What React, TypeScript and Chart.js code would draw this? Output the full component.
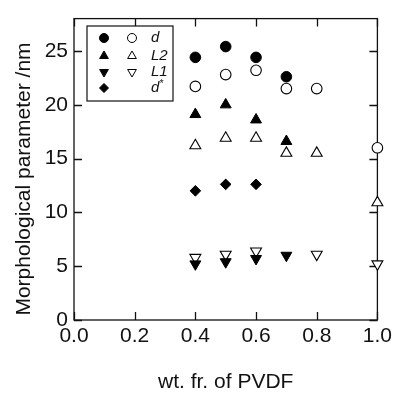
import React, { useEffect, useRef } from "react";
import { Chart, registerables } from "chart.js";

Chart.register(...registerables);

const xTickValues = [0, 0.2, 0.4, 0.6, 0.8, 1.0];
const yTickValues = [0, 5, 10, 15, 20, 25];

const dFilledX = [0.4, 0.5, 0.6, 0.7];
const dFilledY = [24.4, 25.4, 24.4, 22.6];
const dOpenX = [0.4, 0.5, 0.6, 0.7, 0.8, 1.0];
const dOpenY = [21.7, 22.8, 23.2, 21.5, 21.5, 16.0];

const l2FilledX = [0.4, 0.5, 0.6, 0.7];
const l2FilledY = [19.1, 20.0, 18.6, 16.6];
const l2OpenX = [0.4, 0.5, 0.6, 0.7, 0.8, 1.0];
const l2OpenY = [16.2, 16.9, 16.9, 15.5, 15.5, 10.9];

const l1FilledX = [0.4, 0.5, 0.6, 0.7];
const l1FilledY = [5.2, 5.4, 5.7, 6.0];
const l1OpenX = [0.4, 0.5, 0.6, 0.8, 1.0];
const l1OpenY = [5.8, 6.1, 6.4, 6.1, 5.2];

const dStarX = [0.4, 0.5, 0.6];
const dStarY = [12.0, 12.6, 12.6];

const legendLabels = ["d", "L2", "L1", "d"];
const xTitle = "wt. fr. of PVDF";
const yTitle = "Morphological parameter /nm";

const FONT = "'Liberation Sans', Arial, sans-serif";

const pts = (xs: number[], ys: number[]) => xs.map((x, i) => ({ x, y: ys[i] }));

const frameTicksPlugin = {
  id: "frameTicks",
  beforeDatasetsDraw(chart: any) {
    const { ctx, chartArea } = chart;
    const { left, right, top, bottom } = chartArea;
    const xs = chart.scales.x;
    const ys = chart.scales.y;
    const L = 8;
    ctx.save();
    ctx.strokeStyle = "#111";
    ctx.lineWidth = 1.3;
    ctx.strokeRect(left, top, right - left, bottom - top);
    ctx.beginPath();
    xTickValues.forEach((v) => {
      const px = Math.round(xs.getPixelForValue(v)) + 0.5;
      ctx.moveTo(px, bottom);
      ctx.lineTo(px, bottom - L);
      ctx.moveTo(px, top);
      ctx.lineTo(px, top + L);
    });
    yTickValues.forEach((v) => {
      const py = Math.round(ys.getPixelForValue(v)) + 0.5;
      ctx.moveTo(left, py);
      ctx.lineTo(left + L, py);
      ctx.moveTo(right, py);
      ctx.lineTo(right - L, py);
    });
    ctx.stroke();
    ctx.restore();
  },
  afterDraw(chart: any) {
    const { ctx } = chart;
    ctx.save();
    // y title
    ctx.save();
    ctx.translate(24, 179);
    ctx.rotate(-Math.PI / 2);
    ctx.fillStyle = "#111";
    ctx.font = `21px ${FONT}`;
    ctx.textAlign = "center";
    ctx.textBaseline = "middle";
    ctx.fillText(yTitle, 0, 0);
    ctx.restore();
    // legend box
    const bx = 87, by = 26, bw = 86, bh = 75;
    ctx.strokeStyle = "#111";
    ctx.lineWidth = 1.2;
    ctx.fillStyle = "#fff";
    ctx.fillRect(bx, by, bw, bh);
    ctx.strokeRect(bx, by, bw, bh);
    const rows = [38, 56, 72, 88];
    const c1 = 104, c2 = 132, tx = 151;
    const shapes = ["circle", "up", "down", "diamond"];
    const drawShape = (shape: string, x: number, y: number, filled: boolean) => {
      const r = 5;
      ctx.beginPath();
      if (shape === "circle") {
        ctx.arc(x, y, 4.5, 0, Math.PI * 2);
      } else if (shape === "up") {
        ctx.moveTo(x, y - r);
        ctx.lineTo(x + r * 0.87, y + r * 0.5);
        ctx.lineTo(x - r * 0.87, y + r * 0.5);
        ctx.closePath();
      } else if (shape === "down") {
        ctx.moveTo(x, y + r);
        ctx.lineTo(x + r * 0.87, y - r * 0.5);
        ctx.lineTo(x - r * 0.87, y - r * 0.5);
        ctx.closePath();
      } else {
        ctx.moveTo(x, y - 4.5);
        ctx.lineTo(x + 4.5, y);
        ctx.lineTo(x, y + 4.5);
        ctx.lineTo(x - 4.5, y);
        ctx.closePath();
      }
      ctx.fillStyle = filled ? "#000" : "#fff";
      ctx.fill();
      ctx.lineWidth = 1;
      ctx.strokeStyle = "#000";
      ctx.stroke();
    };
    rows.forEach((ry, i) => {
      drawShape(shapes[i], c1, ry, true);
      if (i < 3) drawShape(shapes[i], c2, ry, false);
      ctx.fillStyle = "#111";
      ctx.font = `italic 15px ${FONT}`;
      ctx.textBaseline = "middle";
      ctx.textAlign = "left";
      ctx.fillText(legendLabels[i], tx, ry);
      if (i === 3) {
        const w = ctx.measureText(legendLabels[i]).width;
        ctx.font = `italic 10px ${FONT}`;
        ctx.fillText("*", tx + w, ry - 4);
      }
    });
    ctx.restore();
  },
};

export default function App() {
  const ref = useRef<HTMLCanvasElement | null>(null);
  useEffect(() => {
    if (!ref.current) return;
    const open = (data: any, style: string, r: number, rot = 0) => ({
      data,
      pointStyle: style,
      pointRadius: r,
      pointRotation: rot,
      pointBackgroundColor: "#fff",
      pointBorderColor: "#000",
      pointBorderWidth: 1.1,
      showLine: false,
      clip: false as any,
    });
    const filled = (data: any, style: string, r: number, rot = 0) => ({
      data,
      pointStyle: style,
      pointRadius: r,
      pointRotation: rot,
      pointBackgroundColor: "#000",
      pointBorderColor: "#000",
      pointBorderWidth: 1,
      showLine: false,
      clip: false as any,
    });
    const chart = new Chart(ref.current, {
      type: "scatter",
      data: {
        datasets: [
          filled(pts(dFilledX, dFilledY), "circle", 5.3),
          open(pts(dOpenX, dOpenY), "circle", 5.3),
          filled(pts(l2FilledX, l2FilledY), "triangle", 6.3),
          open(pts(l2OpenX, l2OpenY), "triangle", 6.3),
          filled(pts(l1FilledX, l1FilledY), "triangle", 6.3, 180),
          open(pts(l1OpenX, l1OpenY), "triangle", 6.3, 180),
          filled(pts(dStarX, dStarY), "rectRot", 5.3),
        ] as any,
      },
      options: {
        animation: false,
        responsive: false,
        maintainAspectRatio: false,
        events: [],
        layout: { padding: { left: 0, top: 15, right: 15, bottom: 0 } },
        plugins: { legend: { display: false }, tooltip: { enabled: false } },
        scales: {
          x: {
            type: "linear",
            min: 0,
            max: 1,
            grid: { display: false, drawTicks: false },
            border: { display: false },
            afterBuildTicks: (s: any) => {
              s.ticks = xTickValues.map((v) => ({ value: v }));
            },
            afterFit: (s: any) => {
              s.height = 75;
            },
            ticks: {
              padding: 4,
              color: "#111",
              font: { family: FONT, size: 21 },
              callback: (v: any) => Number(v).toFixed(1),
              maxRotation: 0,
            },
            title: {
              display: true,
              text: xTitle,
              color: "#111",
              font: { family: FONT, size: 21 },
              padding: { top: 0, bottom: 0 },
            },
          },
          y: {
            type: "linear",
            min: 0,
            max: 28,
            grid: { display: false, drawTicks: false },
            border: { display: false },
            afterBuildTicks: (s: any) => {
              s.ticks = yTickValues.map((v) => ({ value: v }));
            },
            afterFit: (s: any) => {
              s.width = 74;
            },
            ticks: {
              padding: 6,
              color: "#111",
              font: { family: FONT, size: 21 },
            },
            title: { display: false },
          },
        },
      },
      plugins: [frameTicksPlugin],
    });
    return () => chart.destroy();
  }, []);
  return (
    <div style={{ position: "fixed", left: 0, top: 0, width: 396, height: 395, background: "#fff" }}>
      <canvas ref={ref} width={396} height={395} style={{ width: 396, height: 395, display: "block" }} />
    </div>
  );
}
